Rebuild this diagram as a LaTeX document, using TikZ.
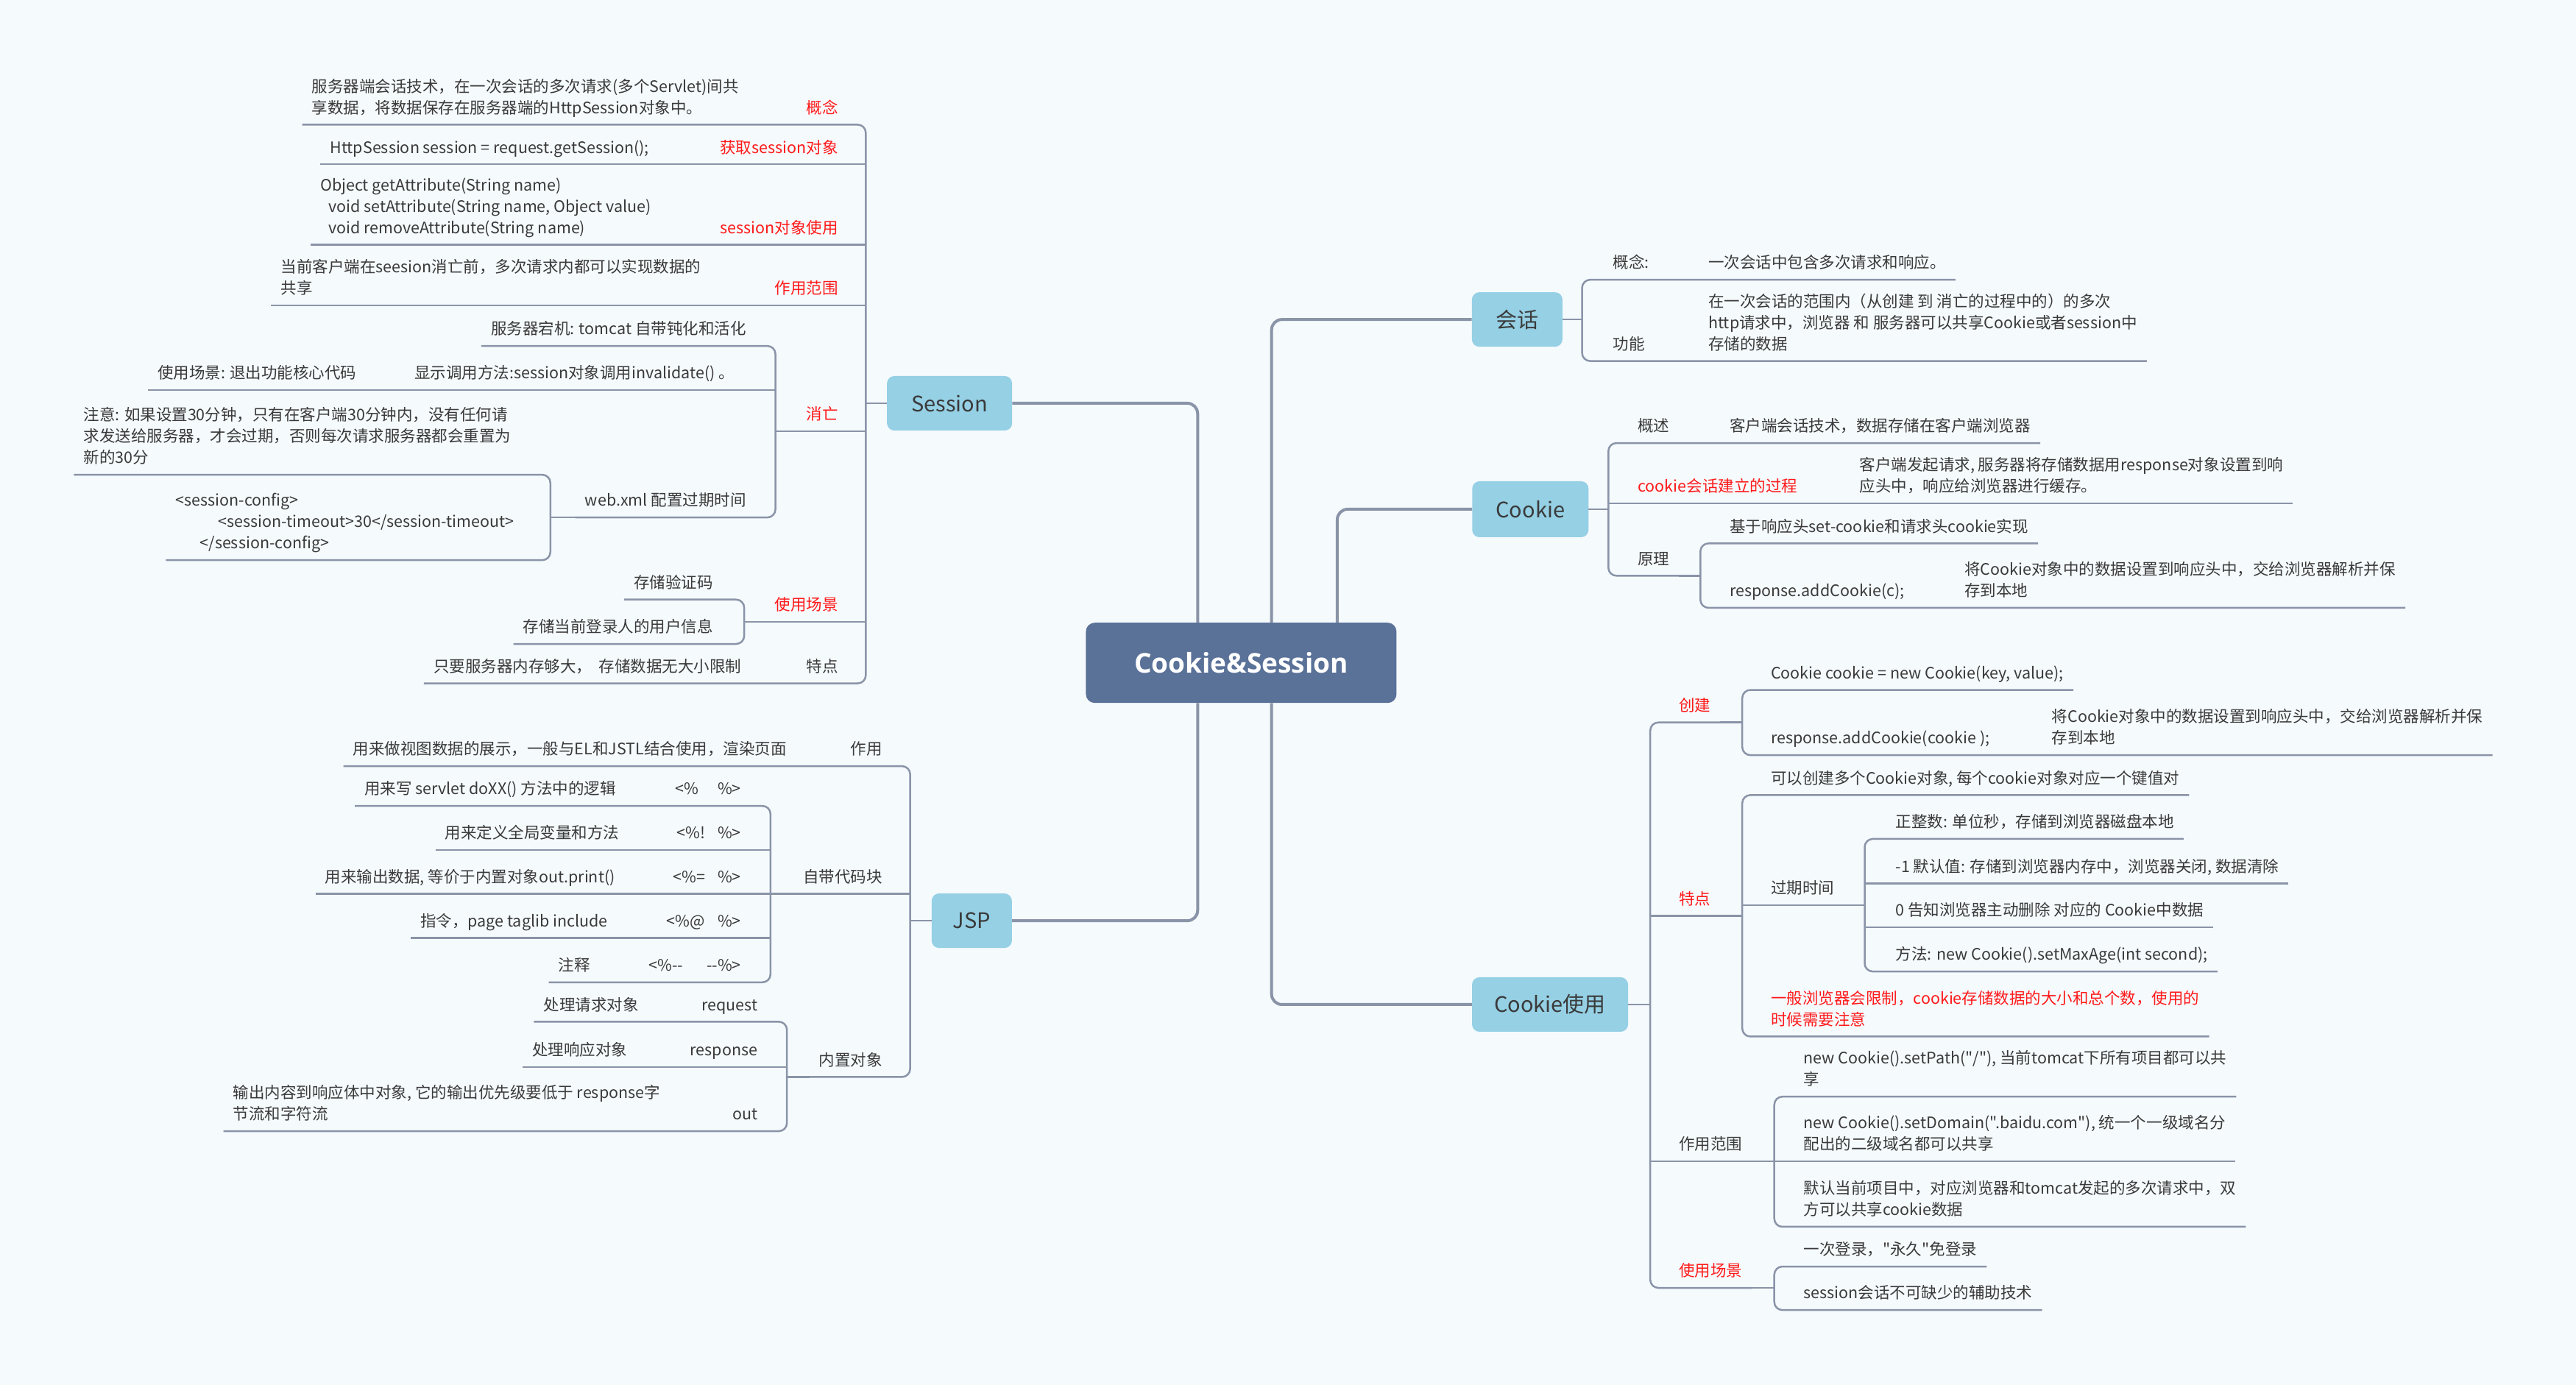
\documentclass[tikz,border=0pt]{standalone}
\usepackage{fontspec}
\setmainfont{Noto Sans CJK SC}
\newfontfamily\cjk{Noto Sans CJK SC}
\newfontfamily\ctrfont{Open Sans}
\definecolor{bg}{HTML}{F5FAFD}
\definecolor{ln}{HTML}{8A94A8}
\definecolor{mb}{HTML}{95D0E5}
\definecolor{cb}{HTML}{5A7198}
\definecolor{tx}{HTML}{3A3A3A}
\definecolor{rd}{HTML}{FF1A1A}
\newcommand{\mmtext}{\cjk\fontsize{21.5pt}{29pt}\selectfont}
\newcommand{\mmbox}{\cjk\fontsize{29pt}{34pt}\selectfont}
\tikzset{
 topic/.style={inner xsep=13pt, inner ysep=10pt, text depth=5pt, align=left, text=tx, font=\mmtext},
 lt/.style={topic, anchor=south east},
 rt/.style={topic, anchor=south west},
 hot/.style={text=rd},
 mainbox/.style={fill=mb, rounded corners=10pt, text=tx, font=\mmbox, inner sep=0pt},
 conn/.style={draw=ln, line width=2.5pt, rounded corners=11pt},
 mconn/.style={draw=ln, line width=4pt, rounded corners=14pt},
}
\begin{document}
\begin{tikzpicture}[x=2.232pt,y=-2.232pt]
\fill[bg] (0,0) rectangle (1568,843);
\useasboundingbox (0,0) rectangle (1568,843);

% ---------- main boxes ----------
\node[fill=cb, rounded corners=12pt, minimum width=422pt, minimum height=109pt, text=white, font=\ctrfont\bfseries\fontsize{37pt}{42pt}\selectfont, inner sep=0pt] (cs) at (755.5,403.5) {Cookie\&Session};
\node[mainbox, minimum width=170pt, minimum height=74pt] (session) at (578,245.5) {Session};
\node[mainbox, minimum width=109pt, minimum height=74pt] (jsp) at (591.5,560.5) {JSP};
\node[mainbox, minimum width=123pt, minimum height=74pt] (huihua) at (923.5,194.5) {会话};
\node[mainbox, minimum width=158pt, minimum height=76pt] (cookie) at (931.5,310) {Cookie};
\node[mainbox, minimum width=212pt, minimum height=74pt] (cu) at (943.5,611.5) {Cookie使用};

\coordinate (ta) at (729,0);
\coordinate (tb) at (774,0);
\coordinate (tc) at (814,0);
\draw[mconn] (cs.north -| ta) |- (session.east);
\draw[mconn] (cs.north -| tb) |- (huihua.west);
\draw[mconn] (cs.north -| tc) |- (cookie.west);
\draw[mconn] (cs.south -| ta) |- (jsp.east);
\draw[mconn] (cs.south -| tb) |- (cu.west);

% ---------- Session ----------
\coordinate (sS) at (527,0);
\coordinate (sX) at (472,0);
\coordinate (sW) at (335,0);
\coordinate (sU) at (453,0);
\node[lt,hot] (s1l) at (516,75.9) {概念};
\node[rt] (s1c) at (184,75.9) {服务器端会话技术，在一次会话的多次请求(多个Servlet)间共\\享数据，将数据保存在服务器端的HttpSession对象中。};
\node[lt,hot] (s2l) at (516,100) {获取session对象};
\node[rt] (s2c) at (195,100) {HttpSession session = request.getSession();};
\node[lt,hot] (s3l) at (516,149) {session对象使用};
\node[rt] (s3c) at (189,149) {Object getAttribute(String name)\\\hspace*{11pt}void setAttribute(String name, Object value)\\\hspace*{11pt}void removeAttribute(String name)};
\node[lt,hot] (s4l) at (516,186) {作用范围};
\node[rt] (s4c) at (165,186) {当前客户端在seesion消亡前，多次请求内都可以实现数据的\\共享};
\node[lt,hot] (s5l) at (516,262.6) {消亡};
\node[lt,hot] (s6l) at (516,378.6) {使用场景};
\node[lt] (s7l) at (516,416) {特点};
\node[rt] (s7c) at (258,416) {只要服务器内存够大，\ \ 存储数据无大小限制};

\node[lt] (x1) at (460,210.6) {服务器宕机: tomcat 自带钝化和活化};
\node[lt] (x2) at (453,237.5) {显示调用方法:session对象调用invalidate() 。};
\node[rt] (x2c) at (90,237.5) {使用场景: 退出功能核心代码};
\node[lt] (x3) at (460,315) {web.xml 配置过期时间};
\node[rt] (w1) at (45,289) {注意: 如果设置30分钟，只有在客户端30分钟内，没有任何请\\求发送给服务器，才会过期，否则每次请求服务器都会重置为\\新的30分};
\node[rt] (w2) at (101,341) {<session-config>\\\hspace*{58pt}<session-timeout>30</session-timeout>\\\hspace*{33pt}</session-config>};
\node[lt] (u1) at (440,365) {存储验证码};
\node[lt] (u2) at (440,392) {存储当前登录人的用户信息};

\draw[conn] (s1c.south west) -| (s7c.south west -| sS) -- (s7c.south west);
\draw[conn] (s2c.south west) -- (s2c.south west -| sS);
\draw[conn] (s3c.south west) -- (s3c.south west -| sS);
\draw[conn] (s4c.south west) -- (s4c.south west -| sS);
\draw[conn] (s5l.south west) -- (s5l.south west -| sS);
\draw[conn] (s6l.south west) -- (s6l.south west -| sS);
\draw[conn] (session.west) -- (session.west -| sS);
\draw[conn] (x1.south west) -| (x3.south west -| sX) -- (x3.south west);
\draw[conn] (x2c.south west) -- (x2c.south west -| sX);
\draw[conn] (s5l.south west) -- (s5l.south west -| sX);
\draw[conn] (w1.south west) -| (w2.south west -| sW) -- (w2.south west);
\draw[conn] (x3.south west) -- (x3.south west -| sW);
\draw[conn] (u1.south west) -| (u2.south west -| sU) -- (u2.south west);
\draw[conn] (s6l.south west) -- (s6l.south west -| sU);

% ---------- JSP ----------
\coordinate (sJ) at (554,0);
\coordinate (sD) at (469,0);
\coordinate (sN) at (479,0);
\node[lt] (j1l) at (543,466.4) {作用};
\node[rt] (j1c) at (209,466.4) {用来做视图数据的展示，一般与EL和JSTL结合使用，渲染页面};
\node[lt] (j2l) at (543,544) {自带代码块};
\node[lt] (j3l) at (543,655.6) {内置对象};
\node[lt] (d1l) at (457,490.6) {<\%\hspace{1.2em}\%>};
\node[rt] (d1c) at (216,490.6) {用来写 servlet doXX() 方法中的逻辑};
\node[lt] (d2l) at (457,517.5) {<\%!\hspace{0.8em}\%>};
\node[rt] (d2c) at (265,517.5) {用来定义全局变量和方法};
\node[lt] (d3l) at (457,544) {<\%=\hspace{0.8em}\%>};
\node[rt] (d3c) at (192,544) {用来输出数据, 等价于内置对象out.print()};
\node[lt] (d4l) at (457,571) {<\%@\hspace{0.8em}\%>};
\node[rt] (d4c) at (250,571) {指令，page taglib include};
\node[lt] (d5l) at (457,598) {<\%-{}-\hspace{1.5em}-{}-\%>};
\node[rt] (d5c) at (334,598) {注释};
\node[lt] (n1l) at (467,622) {request};
\node[rt] (n1c) at (325,622) {处理请求对象};
\node[lt] (n2l) at (467,649.6) {response};
\node[rt] (n2c) at (318,649.6) {处理响应对象};
\node[lt] (n3l) at (467,688.6) {out};
\node[rt] (n3c) at (136,688.6) {输出内容到响应体中对象, 它的输出优先级要低于 response字\\节流和字符流};

\draw[conn] (j1c.south west) -| (j3l.south west -| sJ) -- (j3l.south west);
\draw[conn] (j2l.south west) -- (j2l.south west -| sJ);
\draw[conn] (jsp.west) -- (jsp.west -| sJ);
\draw[conn] (d1c.south west) -| (d5c.south west -| sD) -- (d5c.south west);
\draw[conn] (d2c.south west) -- (d2c.south west -| sD);
\draw[conn] (d3c.south west) -- (d3c.south west -| sD);
\draw[conn] (d4c.south west) -- (d4c.south west -| sD);
\draw[conn] (j2l.south west) -- (j2l.south west -| sD);
\draw[conn] (n1c.south west) -| (n3c.south west -| sN) -- (n3c.south west);
\draw[conn] (n2c.south west) -- (n2c.south west -| sN);
\draw[conn] (j3l.south west) -- (j3l.south west -| sN);

% ---------- 会话 ----------
\coordinate (sH) at (963,0);
\node[rt] (h1l) at (976,170.3) {概念:};
\node[rt] (h1c) at (1034,170.3) {一次会话中包含多次请求和响应。};
\node[rt] (h2l) at (976,219.8) {功能};
\node[rt] (h2c) at (1034,219.8) {在一次会话的范围内（从创建 到 消亡的过程中的）的多次\\http请求中，浏览器 和 服务器可以共享Cookie或者session中\\存储的数据};
\draw[conn] (h1c.south east) -| (h2c.south east -| sH) -- (h2c.south east);
\draw[conn] (huihua.east) -- (huihua.east -| sH);

% ---------- Cookie ----------
\coordinate (sC) at (979,0);
\coordinate (sY) at (1035,0);
\node[rt] (k1l) at (991,269.7) {概述};
\node[rt] (k1c) at (1047,269.7) {客户端会话技术，数据存储在客户端浏览器};
\node[rt,hot] (k2l) at (991,306.5) {cookie会话建立的过程};
\node[rt] (k2c) at (1126,306.5) {客户端发起请求, 服务器将存储数据用response对象设置到响\\应头中，响应给浏览器进行缓存。};
\node[rt] (k3l) at (991,350.5) {原理};
\node[rt] (y1) at (1047,330.8) {基于响应头set-cookie和请求头cookie实现};
\node[rt] (y2l) at (1047,370) {response.addCookie(c);};
\node[rt] (y2c) at (1190,370) {将Cookie对象中的数据设置到响应头中，交给浏览器解析并保\\存到本地};
\draw[conn] (k1c.south east) -| (k3l.south east -| sC) -- (k3l.south east);
\draw[conn] (k2c.south east) -- (k2c.south east -| sC);
\draw[conn] (cookie.east) -- (cookie.east -| sC);
\draw[conn] (y1.south east) -| (y2c.south east -| sY) -- (y2c.south east);
\draw[conn] (k3l.south east) -- (k3l.south east -| sY);

% ---------- Cookie使用 ----------
\coordinate (sU2) at (1004.5,0);
\coordinate (sCJ) at (1060.5,0);
\coordinate (sT) at (1060.5,0);
\coordinate (sG) at (1135,0);
\coordinate (sF) at (1080,0);
\coordinate (sE) at (1080,0);
\node[rt,hot] (c1l) at (1016,439.8) {创建};
\node[rt] (cj1) at (1072,420) {Cookie cookie = new Cookie(key, value);};
\node[rt] (cj2l) at (1072,459.7) {response.addCookie(cookie );};
\node[rt] (cj2c) at (1243,459.7) {将Cookie对象中的数据设置到响应头中，交给浏览器解析并保\\存到本地};
\node[rt,hot] (c2l) at (1016,557.5) {特点};
\node[rt] (t1) at (1072,484) {可以创建多个Cookie对象, 每个cookie对象对应一个键值对};
\node[rt] (t2l) at (1072,551) {过期时间};
\node[rt] (g1) at (1148,510.7) {正整数: 单位秒，存储到浏览器磁盘本地};
\node[rt] (g2) at (1148,537.8) {-1 默认值: 存储到浏览器内存中，浏览器关闭, 数据清除};
\node[rt] (g3) at (1148,564.5) {0 告知浏览器主动删除 对应的 Cookie中数据};
\node[rt] (g4) at (1148,591.4) {方法: new Cookie().setMaxAge(int second);};
\node[rt,hot] (t3) at (1072,631) {一般浏览器会限制，cookie存储数据的大小和总个数，使用的\\时候需要注意};
\node[rt] (c3l) at (1016,707) {作用范围};
\node[rt] (f1) at (1092,667.6) {new Cookie().setPath("/"), 当前tomcat下所有项目都可以共\\享};
\node[rt] (f2) at (1092,707) {new Cookie().setDomain(".baidu.com"), 统一个一级域名分\\配出的二级域名都可以共享};
\node[rt] (f3) at (1092,746.8) {默认当前项目中，对应浏览器和tomcat发起的多次请求中，双\\方可以共享cookie数据};
\node[rt,hot] (c4l) at (1016,784) {使用场景};
\node[rt] (e1) at (1092,771) {一次登录，"永久"免登录};
\node[rt] (e2) at (1092,797.5) {session会话不可缺少的辅助技术};

\draw[conn] (c1l.south east) -| (c4l.south east -| sU2) -- (c4l.south east);
\draw[conn] (c2l.south east) -- (c2l.south east -| sU2);
\draw[conn] (c3l.south east) -- (c3l.south east -| sU2);
\draw[conn] (cu.east) -- (cu.east -| sU2);
\draw[conn] (cj1.south east) -| (cj2c.south east -| sCJ) -- (cj2c.south east);
\draw[conn] (c1l.south east) -- (c1l.south east -| sCJ);
\draw[conn] (t1.south east) -| (t3.south east -| sT) -- (t3.south east);
\draw[conn] (t2l.south east) -- (t2l.south east -| sT);
\draw[conn] (c2l.south east) -- (c2l.south east -| sT);
\draw[conn] (g1.south east) -| (g4.south east -| sG) -- (g4.south east);
\draw[conn] (g2.south east) -- (g2.south east -| sG);
\draw[conn] (g3.south east) -- (g3.south east -| sG);
\draw[conn] (t2l.south east) -- (t2l.south east -| sG);
\draw[conn] (f1.south east) -| (f3.south east -| sF) -- (f3.south east);
\draw[conn] (f2.south east) -- (f2.south east -| sF);
\draw[conn] (c3l.south east) -- (c3l.south east -| sF);
\draw[conn] (e1.south east) -| (e2.south east -| sE) -- (e2.south east);
\draw[conn] (c4l.south east) -- (c4l.south east -| sE);
\end{tikzpicture}
\end{document}
